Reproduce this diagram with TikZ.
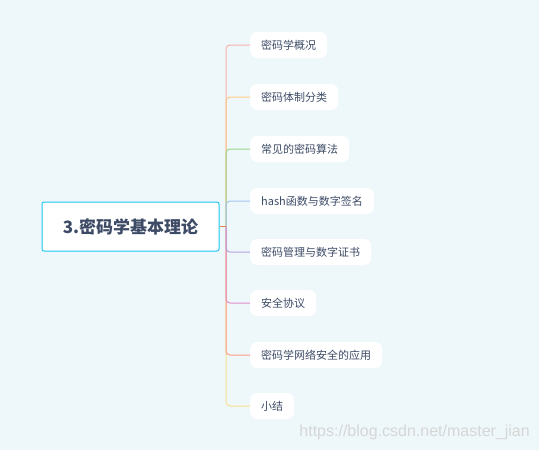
\documentclass[tikz,border=0pt]{standalone}
\usepackage{fontspec}
\setmainfont{Noto Sans CJK SC}
\newfontfamily\wmfont{Liberation Sans}
\definecolor{bgc}{HTML}{EEF8FB}
\definecolor{txt}{HTML}{3D4B66}
\definecolor{rootb}{HTML}{1EC4F2}
\definecolor{cA}{HTML}{F7AFA9}
\definecolor{cB}{HTML}{FFCB80}
\definecolor{cC}{HTML}{9AD98C}
\definecolor{cD}{HTML}{A3C6EE}
\definecolor{cE}{HTML}{B5A3DE}
\definecolor{cF}{HTML}{DE8CC8}
\definecolor{cG}{HTML}{FF9C80}
\definecolor{cH}{HTML}{F9DF8A}
\definecolor{cR}{HTML}{E08550}
\tikzset{
  rootbox/.style={draw=rootb, line width=1pt, fill=white, rounded corners=2pt,
    minimum width=177pt, minimum height=49pt, text=txt, font=\fontsize{17}{20}\selectfont\bfseries, inner sep=0pt},
  leaf/.style={fill=white, rounded corners=7pt, minimum height=26pt, inner xsep=11pt, inner ysep=0pt,
    text=txt, font=\fontsize{11}{13}\selectfont, anchor=west},
  br/.style={line width=1pt, rounded corners=4pt}
}
\begin{document}
\begin{tikzpicture}[x=1pt,y=-1pt]
\fill[bgc] (0,0) rectangle (539,450);
\useasboundingbox (0,0) rectangle (539,450);
\node[rootbox] (root) at (130.5,226.5) {3.密码学基本理论};
\coordinate (j) at (226,226.5);
\node[leaf] (l1) at (250,45) {密码学概况};
\node[leaf] (l2) at (250,97) {密码体制分类};
\node[leaf] (l3) at (250,149) {常见的密码算法};
\node[leaf] (l4) at (250,201) {hash函数与数字签名};
\node[leaf] (l5) at (250,252) {密码管理与数字证书};
\node[leaf] (l6) at (250,303) {安全协议};
\node[leaf] (l7) at (250,355) {密码学网络安全的应用};
\node[leaf] (l8) at (250,406) {小结};
\draw[br, cA] (j) |- (l1.west);
\draw[br, cH] (j) |- (l8.west);
\draw[br, cB] (j) |- (l2.west);
\draw[br, cG] (j) |- (l7.west);
\draw[br, cC] (j) |- (l3.west);
\draw[br, cF] (j) |- (l6.west);
\draw[br, cD] (j) |- (l4.west);
\draw[br, cE] (j) |- (l5.west);
\draw[line width=1.3pt, cR] (root.east) -- (j);
\node[anchor=east, text=black!16, font=\wmfont\fontsize{16}{18}\selectfont, inner sep=0pt] (wm) at (530,432) {https://blog.csdn.net/master\_jian};
\end{tikzpicture}
\end{document}
